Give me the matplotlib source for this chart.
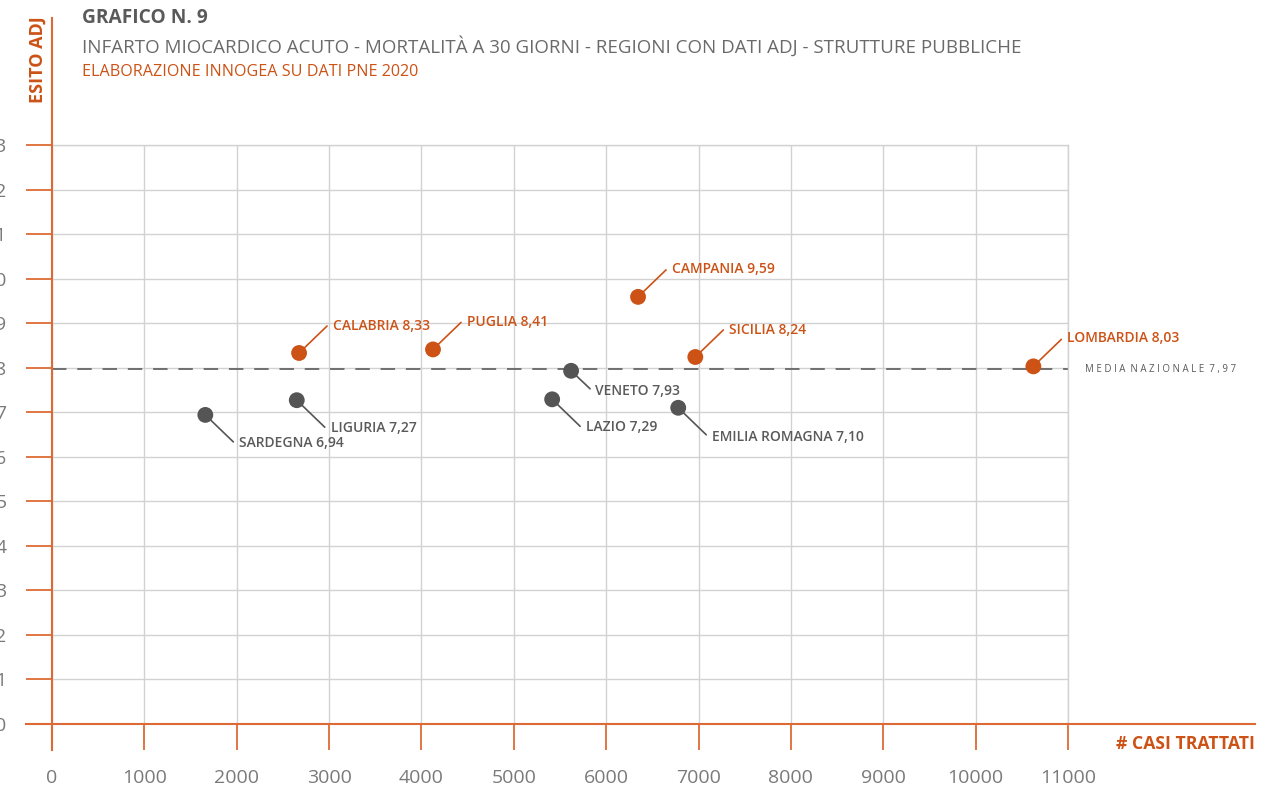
import matplotlib
matplotlib.use("Agg")
import matplotlib.pyplot as plt
from matplotlib.lines import Line2D

# ---- data ----
regioni = ["SARDEGNA", "LIGURIA", "CALABRIA", "PUGLIA", "LAZIO", "VENETO",
           "CAMPANIA", "EMILIA ROMAGNA", "SICILIA", "LOMBARDIA"]
casi = [1660, 2650, 2675, 4125, 5415, 5620, 6345, 6780, 6965, 10625]
esito = [6.94, 7.27, 8.33, 8.41, 7.29, 7.93, 9.59, 7.10, 8.24, 8.03]
media_nazionale = 7.97
x_ticks = list(range(0, 11001, 1000))
y_ticks = list(range(0, 14))

ORANGE = "#cc5216"
SPINE = "#dd6a35"
GRAY_DOT = "#555555"
GRAY_TXT = "#5a5a5a"
TICK_TXT = "#7a7a7a"
plt.rcParams["font.family"] = ["Open Sans", "DejaVu Sans"]

W, H = 1278, 795
fig = plt.figure(figsize=(W / 100, H / 100), dpi=100)
ax = fig.add_axes([52 / W, 1 - 724 / H, (1068 - 52) / W, (724 - 145) / H])
ax.set_xlim(0, 11000)
ax.set_ylim(0, 13)
ax.set_xticks(x_ticks)
ax.set_yticks(y_ticks)
ax.grid(True, color="#d2d2d2", linewidth=1.0)
ax.set_axisbelow(True)
for s in ["top", "right"]:
    ax.spines[s].set_color("#d2d2d2")
    ax.spines[s].set_linewidth(1.0)
for s in ["left", "bottom"]:
    ax.spines[s].set_visible(False)

ax.tick_params(axis="both", which="both", length=26 * 0.72, width=1.3,
               color=SPINE, labelsize=14, labelcolor=TICK_TXT)
ax.tick_params(axis="x", pad=14)
ax.tick_params(axis="y", pad=14)
ax.set_xticklabels([str(v) for v in x_ticks])
ax.set_yticklabels([str(v) for v in y_ticks])

# extended orange axis lines
fig.add_artist(Line2D([52 / W, 52 / W], [1 - 750 / H, 1 - 18 / H],
                      color=SPINE, lw=1.5, transform=fig.transFigure))
fig.add_artist(Line2D([26 / W, 1255 / W], [1 - 724 / H, 1 - 724 / H],
                      color=SPINE, lw=1.5, transform=fig.transFigure))

# national mean
ax.axhline(media_nazionale, color="#666666", lw=1.3, dashes=(8, 6), zorder=2)
ax.annotate("M E D I A  N A Z I O N A L E  7 , 9 7",
            xy=(1, media_nazionale), xycoords=("axes fraction", "data"),
            xytext=(17, 0), textcoords="offset pixels", va="center", ha="left",
            fontsize=7, color=GRAY_TXT, annotation_clip=False)

# points
colors = [ORANGE if v > media_nazionale else GRAY_DOT for v in esito]
ax.scatter(casi, esito, s=130, c=colors, zorder=4, linewidths=0)

# label leader offsets (pixels): (line dx, line dy, text dx, text dy)
offsets = {
    "SARDEGNA": (28, -27, 34, -28),
    "LIGURIA": (28, -27, 34, -28),
    "CALABRIA": (28, 27, 34, 27),
    "PUGLIA": (28, 27, 34, 27),
    "LAZIO": (28, -27, 34, -28),
    "VENETO": (19, -18, 24, -20),
    "CAMPANIA": (28, 27, 34, 28),
    "EMILIA ROMAGNA": (28, -27, 34, -29),
    "SICILIA": (28, 27, 34, 27),
    "LOMBARDIA": (28, 27, 34, 28),
}
for name, x, y, col in zip(regioni, casi, esito, colors):
    ldx, ldy, tdx, tdy = offsets[name]
    ax.annotate("", xy=(x, y), xytext=(ldx, ldy), textcoords="offset pixels",
                arrowprops=dict(arrowstyle="-", color=col, lw=1.2,
                                shrinkA=0, shrinkB=0), zorder=3)
    label = f"{name} {y:.2f}".replace(".", ",")
    ax.annotate(label, xy=(x, y), xytext=(tdx, tdy), textcoords="offset pixels",
                ha="left", va="center", fontsize=10, fontweight="semibold",
                color=(ORANGE if col == ORANGE else GRAY_TXT),
                annotation_clip=False)

# titles
fig.text(82 / W, 1 - 18 / H, "GRAFICO N. 9", fontsize=13.8, fontweight="bold",
         color="#5a5a5a", va="center", ha="left")
fig.text(82 / W, 1 - 46 / H,
         "INFARTO MIOCARDICO ACUTO - MORTALITÀ A 30 GIORNI - REGIONI CON DATI ADJ - STRUTTURE PUBBLICHE",
         fontsize=13.5, color="#6a6a6a", va="center", ha="left")
fig.text(82 / W, 1 - 72 / H, "ELABORAZIONE INNOGEA SU DATI PNE 2020",
         fontsize=11.6, color=ORANGE, va="center", ha="left")
fig.text(38 / W, 1 - 60 / H, "ESITO ADJ", rotation=90, fontsize=13,
         fontweight="bold", color=ORANGE, va="center", ha="center")
fig.text(1255 / W, 1 - 744 / H, "# CASI TRATTATI", fontsize=12.7,
         fontweight="bold", color=ORANGE, va="center", ha="right")

fig.savefig("out.png", dpi=100, facecolor="white")
